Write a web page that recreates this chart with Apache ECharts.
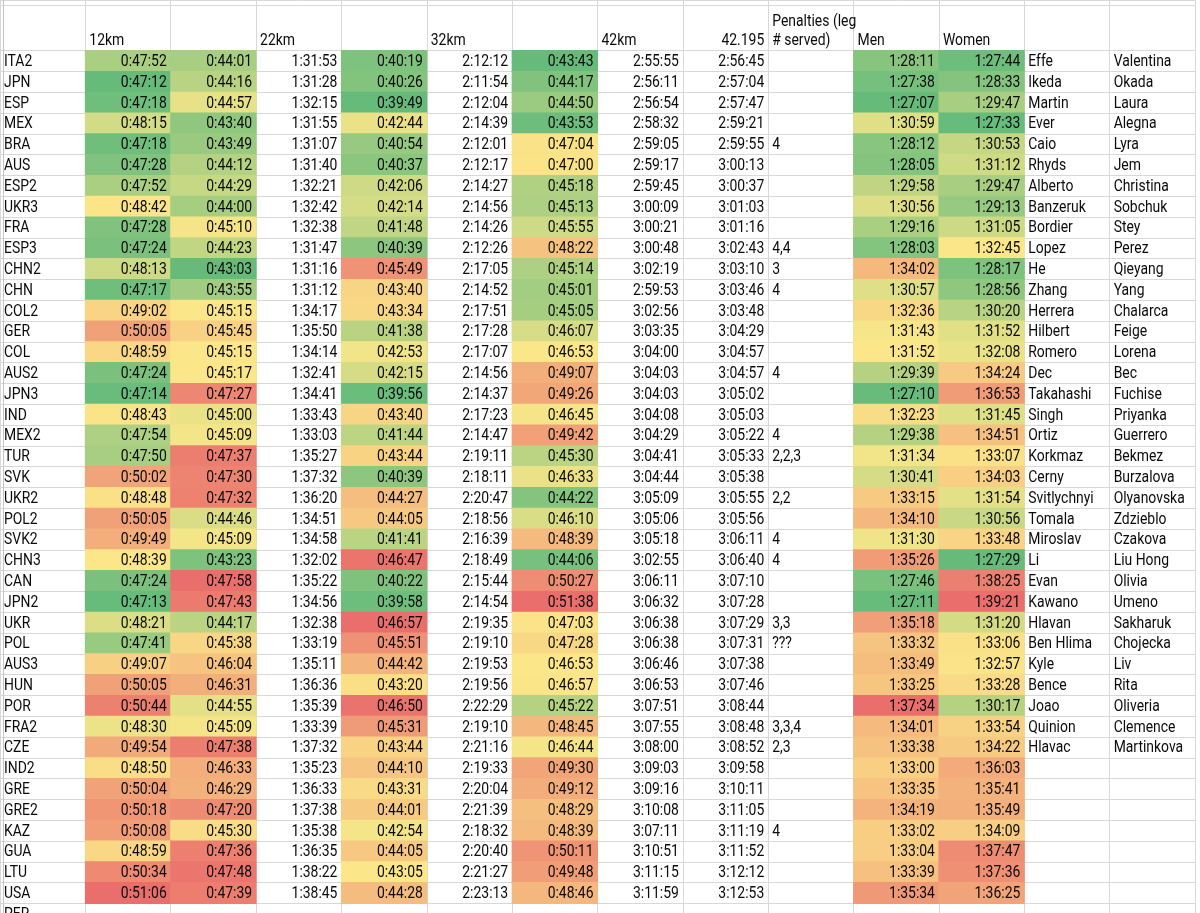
<!DOCTYPE html>
<html>
<head>
<meta charset="utf-8">
<title>Relay splits</title>
<script src="https://cdn.jsdelivr.net/npm/echarts@6/dist/echarts.min.js"></script>
<style>
html, body { margin: 0; padding: 0; background: #fff; }
#sheet { width: 1200px; height: 913px; }
</style>
</head>
<body>
<div id="sheet"></div>
<script>
// header cells, one per sheet column
var headers = ['', '12km', '', '22km', '', '32km', '', '42km', '42.195', 'Penalties (leg\n# served)', 'Men', 'Women', '', ''];

var teams = ['ITA2','JPN','ESP','MEX','BRA','AUS','ESP2','UKR3','FRA','ESP3','CHN2','CHN','COL2','GER','COL','AUS2','JPN3','IND','MEX2','TUR','SVK','UKR2','POL2','SVK2','CHN3','CAN','JPN2','UKR','POL','AUS3','HUN','POR','FRA2','CZE','IND2','GRE','GRE2','KAZ','GUA','LTU','USA','PER'];

var split12 = ['0:47:52','0:47:12','0:47:18','0:48:15','0:47:18','0:47:28','0:47:52','0:48:42','0:47:28','0:47:24','0:48:13','0:47:17','0:49:02','0:50:05','0:48:59','0:47:24','0:47:14','0:48:43','0:47:54','0:47:50','0:50:02','0:48:48','0:50:05','0:49:49','0:48:39','0:47:24','0:47:13','0:48:21','0:47:41','0:49:07','0:50:05','0:50:44','0:48:30','0:49:54','0:48:50','0:50:04','0:50:18','0:50:08','0:48:59','0:50:34','0:51:06'];

var leg2 = ['0:44:01','0:44:16','0:44:57','0:43:40','0:43:49','0:44:12','0:44:29','0:44:00','0:45:10','0:44:23','0:43:03','0:43:55','0:45:15','0:45:45','0:45:15','0:45:17','0:47:27','0:45:00','0:45:09','0:47:37','0:47:30','0:47:32','0:44:46','0:45:09','0:43:23','0:47:58','0:47:43','0:44:17','0:45:38','0:46:04','0:46:31','0:44:55','0:45:09','0:47:38','0:46:33','0:46:29','0:47:20','0:45:30','0:47:36','0:47:48','0:47:39'];

var split22 = ['1:31:53','1:31:28','1:32:15','1:31:55','1:31:07','1:31:40','1:32:21','1:32:42','1:32:38','1:31:47','1:31:16','1:31:12','1:34:17','1:35:50','1:34:14','1:32:41','1:34:41','1:33:43','1:33:03','1:35:27','1:37:32','1:36:20','1:34:51','1:34:58','1:32:02','1:35:22','1:34:56','1:32:38','1:33:19','1:35:11','1:36:36','1:35:39','1:33:39','1:37:32','1:35:23','1:36:33','1:37:38','1:35:38','1:36:35','1:38:22','1:38:45'];

var leg3 = ['0:40:19','0:40:26','0:39:49','0:42:44','0:40:54','0:40:37','0:42:06','0:42:14','0:41:48','0:40:39','0:45:49','0:43:40','0:43:34','0:41:38','0:42:53','0:42:15','0:39:56','0:43:40','0:41:44','0:43:44','0:40:39','0:44:27','0:44:05','0:41:41','0:46:47','0:40:22','0:39:58','0:46:57','0:45:51','0:44:42','0:43:20','0:46:50','0:45:31','0:43:44','0:44:10','0:43:31','0:44:01','0:42:54','0:44:05','0:43:05','0:44:28'];

var split32 = ['2:12:12','2:11:54','2:12:04','2:14:39','2:12:01','2:12:17','2:14:27','2:14:56','2:14:26','2:12:26','2:17:05','2:14:52','2:17:51','2:17:28','2:17:07','2:14:56','2:14:37','2:17:23','2:14:47','2:19:11','2:18:11','2:20:47','2:18:56','2:16:39','2:18:49','2:15:44','2:14:54','2:19:35','2:19:10','2:19:53','2:19:56','2:22:29','2:19:10','2:21:16','2:19:33','2:20:04','2:21:39','2:18:32','2:20:40','2:21:27','2:23:13'];

var leg4 = ['0:43:43','0:44:17','0:44:50','0:43:53','0:47:04','0:47:00','0:45:18','0:45:13','0:45:55','0:48:22','0:45:14','0:45:01','0:45:05','0:46:07','0:46:53','0:49:07','0:49:26','0:46:45','0:49:42','0:45:30','0:46:33','0:44:22','0:46:10','0:48:39','0:44:06','0:50:27','0:51:38','0:47:03','0:47:28','0:46:53','0:46:57','0:45:22','0:48:45','0:46:44','0:49:30','0:49:12','0:48:29','0:48:39','0:50:11','0:49:48','0:48:46'];

var split42 = ['2:55:55','2:56:11','2:56:54','2:58:32','2:59:05','2:59:17','2:59:45','3:00:09','3:00:21','3:00:48','3:02:19','2:59:53','3:02:56','3:03:35','3:04:00','3:04:03','3:04:03','3:04:08','3:04:29','3:04:41','3:04:44','3:05:09','3:05:06','3:05:18','3:02:55','3:06:11','3:06:32','3:06:38','3:06:38','3:06:46','3:06:53','3:07:51','3:07:55','3:08:00','3:09:03','3:09:16','3:10:08','3:07:11','3:10:51','3:11:15','3:11:59'];

var finish = ['2:56:45','2:57:04','2:57:47','2:59:21','2:59:55','3:00:13','3:00:37','3:01:03','3:01:16','3:02:43','3:03:10','3:03:46','3:03:48','3:04:29','3:04:57','3:04:57','3:05:02','3:05:03','3:05:22','3:05:33','3:05:38','3:05:55','3:05:56','3:06:11','3:06:40','3:07:10','3:07:28','3:07:29','3:07:31','3:07:38','3:07:46','3:08:44','3:08:48','3:08:52','3:09:58','3:10:11','3:11:05','3:11:19','3:11:52','3:12:12','3:12:53'];

var penalties = ['','','','','4','','','','','4,4','3','4','','','','4','','','4','2,2,3','','2,2','','4','4','','','3,3','???','','','','3,3,4','2,3','','','','4','','',''];

var menTimes = ['1:28:11','1:27:38','1:27:07','1:30:59','1:28:12','1:28:05','1:29:58','1:30:56','1:29:16','1:28:03','1:34:02','1:30:57','1:32:36','1:31:43','1:31:52','1:29:39','1:27:10','1:32:23','1:29:38','1:31:34','1:30:41','1:33:15','1:34:10','1:31:30','1:35:26','1:27:46','1:27:11','1:35:18','1:33:32','1:33:49','1:33:25','1:37:34','1:34:01','1:33:38','1:33:00','1:33:35','1:34:19','1:33:02','1:33:04','1:33:39','1:35:34'];

var womenTimes = ['1:27:44','1:28:33','1:29:47','1:27:33','1:30:53','1:31:12','1:29:47','1:29:13','1:31:05','1:32:45','1:28:17','1:28:56','1:30:20','1:31:52','1:32:08','1:34:24','1:36:53','1:31:45','1:34:51','1:33:07','1:34:03','1:31:54','1:30:56','1:33:48','1:27:29','1:38:25','1:39:21','1:31:20','1:33:06','1:32:57','1:33:28','1:30:17','1:33:54','1:34:22','1:36:03','1:35:41','1:35:49','1:34:09','1:37:47','1:37:36','1:36:25'];

var menNames = ['Effe','Ikeda','Martin','Ever','Caio','Rhyds','Alberto','Banzeruk','Bordier','Lopez','He','Zhang','Herrera','Hilbert','Romero','Dec','Takahashi','Singh','Ortiz','Korkmaz','Cerny','Svitlychnyi','Tomala','Miroslav','Li','Evan','Kawano','Hlavan','Ben Hlima','Kyle','Bence','Joao','Quinion','Hlavac'];

var womenNames = ['Valentina','Okada','Laura','Alegna','Lyra','Jem','Christina','Sobchuk','Stey','Perez','Qieyang','Yang','Chalarca','Feige','Lorena','Bec','Fuchise','Priyanka','Guerrero','Bekmez','Burzalova','Olyanovska','Zdzieblo','Czakova','Liu Hong','Olivia','Umeno','Sakharuk','Chojecka','Liv','Rita','Oliveria','Clemence','Martinkova'];

// sheet columns in order, which get the colour scale, which are right aligned
var columns = [teams, split12, leg2, split22, leg3, split32, leg4, split42, finish, penalties, menTimes, womenTimes, menNames, womenNames];
var colourCols = [1, 2, 4, 6, 10, 11];
var rightCols = [1, 2, 3, 4, 5, 6, 7, 8, 10, 11];

var FONT = '16px Roboto, "Liberation Sans", sans-serif';
var ROW_H = 20.8;
var SQUEEZE = 0.87;   // narrow-ish spreadsheet font
var LAST = 41;        // rows shown in full; the next one is cut by the window

function toSec(t) {
    var p = t.split(':');
    return (+p[0]) * 3600 + (+p[1]) * 60 + (+p[2]);
}

// excel style 3 colour scale: min -> 0, 50th percentile -> 0.5, max -> 1
function scalePos(list) {
    var secs = list.map(toSec);
    var sorted = secs.slice().sort(function (a, b) { return a - b; });
    var n = sorted.length;
    var pos = (n - 1) * 0.5, lo = Math.floor(pos);
    var med = sorted[lo] + (sorted[Math.min(lo + 1, n - 1)] - sorted[lo]) * (pos - lo);
    var min = sorted[0], max = sorted[n - 1];
    return secs.map(function (v) {
        if (v <= med) return 0.5 * (v - min) / (med - min);
        return 0.5 + 0.5 * (v - med) / (max - med);
    });
}

var colNames = headers.map(function (h, i) { return 'c' + i; });

var fillData = [];
colourCols.forEach(function (ci) {
    scalePos(columns[ci]).forEach(function (v, ri) {
        fillData.push([ci, ri, v]);
    });
});

var cells = [], tailCells = [];
columns.forEach(function (list, ci) {
    list.forEach(function (txt, ri) {
        if (txt === '' || txt == null) return;
        var cell = { col: ci, row: ri, text: txt, right: rightCols.indexOf(ci) >= 0 };
        if (ri < LAST) cells.push(cell);
        else tailCells.push({ col: ci, row: 0, text: txt, right: cell.right });
    });
});

var headCells = [];
headers.forEach(function (h, ci) {
    if (h) headCells.push({ col: ci, row: 0, text: h, right: h === '42.195' });
});

function renderFill(params, api) {
    var c = api.coord([api.value(0), api.value(1)]);
    var s = api.size([1, 1]);
    return {
        type: 'rect',
        shape: { x: c[0] - s[0] / 2 - 0.5, y: c[1] - s[1] / 2 - 0.5, width: s[0] + 1, height: s[1] + 1 },
        style: { fill: api.visual('color') },
        silent: true
    };
}

function textMaker(list, head) {
    return function (params, api) {
        var cell = list[params.dataIndex];
        var c = api.coord([api.value(0), api.value(1)]);
        var s = api.size([1, 1]);
        var top = c[1] - s[1] / 2;
        return {
            type: 'text',
            x: cell.right ? c[0] + s[0] / 2 - 4 : c[0] - s[0] / 2 + 4,
            y: head ? top + s[1] - 0.5 : top + ROW_H / 2 + 1,
            scaleX: SQUEEZE,
            style: {
                text: cell.text,
                align: cell.right ? 'right' : 'left',
                verticalAlign: head ? 'bottom' : 'middle',
                font: FONT,
                lineHeight: 19,
                fill: '#0a0a0a'
            },
            silent: true
        };
    };
}

var gridLine = { show: true, interval: 0, lineStyle: { color: '#d8d8d8', width: 1 } };
var hidden = { show: false };
var edgeLine = { show: true, onZero: false, lineStyle: { color: '#c4c4c4' } };

function xAx(i) {
    return { type: 'category', gridIndex: i, data: colNames, axisLine: hidden, axisTick: hidden, axisLabel: hidden, splitLine: gridLine };
}
function yAx(i, rows) {
    return { type: 'category', gridIndex: i, data: rows, inverse: true, offset: -3, axisLine: edgeLine, axisTick: hidden, axisLabel: hidden, splitLine: gridLine };
}

function textSeries(gi, list, head) {
    return {
        type: 'custom',
        xAxisIndex: gi,
        yAxisIndex: gi,
        renderItem: textMaker(list, head),
        encode: { x: 0, y: 1 },
        data: list.map(function (c) { return [c.col, c.row]; }),
        z: 3
    };
}

var chart = echarts.init(document.getElementById('sheet'), null, { renderer: 'canvas' });

chart.setOption({
    backgroundColor: '#fff',
    animation: false,
    grid: [
        { left: 0, top: 0, width: 1195, height: 5 },
        { left: 0, top: 5, width: 1195, height: 45.6 },
        { left: 0, top: 50.6, width: 1195, height: ROW_H * LAST },
        { left: 0, top: 50.6 + ROW_H * LAST, width: 1195, height: 913 - 50.6 - ROW_H * LAST }
    ],
    xAxis: [xAx(0), xAx(1), xAx(2), xAx(3)],
    yAxis: [yAx(0, ['top']), yAx(1, ['head']), yAx(2, teams.slice(0, LAST)), yAx(3, teams.slice(LAST))],
    visualMap: {
        show: false,
        type: 'continuous',
        seriesIndex: 0,
        dimension: 2,
        min: 0,
        max: 1,
        inRange: { color: ['#66bb7b', '#fbe789', '#ea6f6c'] }
    },
    series: [
        {
            type: 'custom',
            name: 'fills',
            xAxisIndex: 2,
            yAxisIndex: 2,
            renderItem: renderFill,
            encode: { x: 0, y: 1 },
            data: fillData,
            z: 2
        },
        textSeries(2, cells, false),
        textSeries(3, tailCells, false),
        textSeries(1, headCells, true)
    ]
});
</script>
</body>
</html>
